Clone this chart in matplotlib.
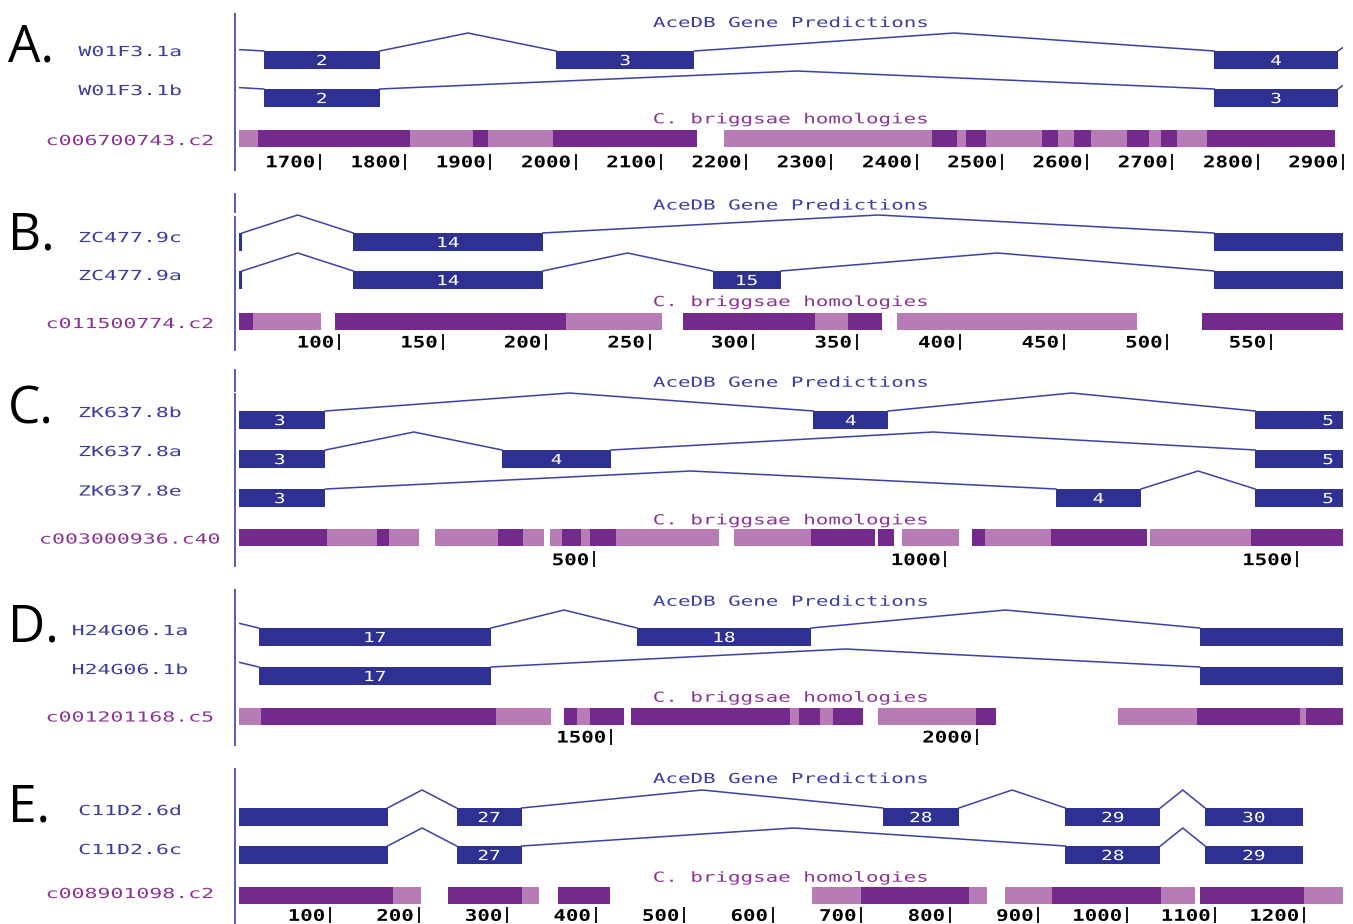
import matplotlib
matplotlib.use("Agg")
import matplotlib.pyplot as plt
from matplotlib import patheffects
from matplotlib.patches import Rectangle
from matplotlib.transforms import Affine2D, offset_copy

# ------------------------------------------------------------------
# Gene models (AceDB predictions) and C. briggsae homology blocks
# Coordinates are in base pairs along each displayed region.
# ------------------------------------------------------------------
panel_letters = ["A.", "B.", "C.", "D.", "E."]

# A: W01F3.1
a_span = (1604.4, 2900.0)
a_ticks = [1700, 1800, 1900, 2000, 2100, 2200, 2300, 2400, 2500, 2600, 2700, 2800, 2900]
a_genes = ["W01F3.1a", "W01F3.1b"]
a_exon_starts = [[700, 1634, 1977, 2749, 2955], [700, 1634, 2749, 2955]]
a_exon_ends = [[900, 1770, 2139, 2894, 3100], [900, 1770, 2894, 3100]]
a_exon_labels = [["", "2", "3", "4", ""], ["", "2", "3", ""]]
a_contig = "c006700743.c2"
a_hom_starts = [1600, 1627, 1806, 1880, 1897, 1973, 2174, 2418, 2447, 2458,
                2481, 2547, 2566, 2584, 2604, 2647, 2672, 2687, 2705, 2740]
a_hom_ends = [1627, 1806, 1880, 1897, 1973, 2142, 2418, 2447, 2458, 2481,
              2547, 2566, 2584, 2604, 2647, 2672, 2687, 2705, 2740, 2891]
a_hom_strong = [0, 1, 0, 1, 0, 1, 0, 1, 0, 1, 0, 1, 0, 1, 0, 1, 0, 1, 0, 1]

# B: ZC477.9
b_span = (51.5, 584.8)
b_ticks = [100, 150, 200, 250, 300, 350, 400, 450, 500, 550]
b_genes = ["ZC477.9c", "ZC477.9a"]
b_exon_starts = [[20, 107.0, 522.5], [20, 107.0, 280.4, 522.5]]
b_exon_ends = [[53.2, 198.3, 640], [53.2, 198.3, 313.3, 640]]
b_exon_labels = [["", "14", ""], ["", "14", "15", ""]]
b_contig = "c011500774.c2"
b_hom_starts = [40, 58.6, 98.3, 209.6, 266.0, 330.1, 345.7, 369.4, 516.5]
b_hom_ends = [58.6, 91.1, 209.6, 256.0, 330.1, 345.7, 362.1, 485.1, 600]
b_hom_strong = [1, 0, 1, 0, 1, 0, 1, 0, 1]

# C: ZK637.8
c_span = (-5.7, 1565.5)
c_ticks = [500, 1000, 1500]
c_genes = ["ZK637.8b", "ZK637.8a", "ZK637.8e"]
c_exon_starts = [[-12, 812.1, 1440.6], [-12, 369.4, 1440.6], [-12, 1157.2, 1440.6]]
c_exon_ends = [[117.9, 918.4, 1700], [117.9, 524.2, 1700], [117.9, 1278.1, 1700]]
c_exon_labels = [["3", "4", "5"], ["3", "4", "5"], ["3", "4", "5"]]
c_contig = "c003000936.c40"
c_hom_starts = [-10, 119.9, 191.2, 208.9, 274.0, 363.2, 398.7, 437.0, 454.2, 481.5, 494.3,
                530.6, 699.4, 808.8, 904.4, 937.6, 1038.1, 1055.9, 1149.5, 1290.9, 1434.2]
c_hom_ends = [119.9, 191.2, 208.9, 251.6, 363.2, 398.7, 429.3, 454.2, 481.5, 494.3, 530.6,
              678.4, 808.8, 900.0, 926.8, 1019.1, 1055.9, 1149.5, 1286.5, 1434.2, 1580]
c_hom_strong = [1, 0, 1, 0, 0, 1, 0, 0, 1, 0, 1, 0, 0, 1, 1, 0, 1, 0, 1, 0, 1]

# D: H24G06.1
d_span = (991.1, 2500.0)
d_ticks = [1500, 2000]
d_genes = ["H24G06.1a", "H24G06.1b"]
d_exon_starts = [[700, 1018.7, 1535.5, 2304.2], [700, 1018.7, 2304.2]]
d_exon_ends = [[813, 1336.1, 1773.4, 2650], [813, 1336.1, 2650]]
d_exon_labels = [["", "17", "18", ""], ["", "17", ""]]
d_contig = "c001201168.c5"
d_hom_starts = [980, 1021.9, 1342.2, 1435.8, 1454.1, 1471.3, 1527.6, 1744.1, 1756.3,
                1785.7, 1802.7, 1865.2, 1998.5, 2192.3, 2300.5, 2441.2, 2449.2]
d_hom_ends = [1021.9, 1342.2, 1417.5, 1454.1, 1471.3, 1518.3, 1744.1, 1756.3, 1785.7,
              1802.7, 1843.7, 1998.5, 2025.4, 2300.5, 2441.2, 2449.2, 2510]
d_hom_strong = [0, 1, 0, 1, 0, 1, 1, 0, 1, 0, 1, 0, 1, 0, 1, 0, 1]

# E: C11D2.6
e_span = (-3.3, 1244.0)
e_ticks = [100, 200, 300, 400, 500, 600, 700, 800, 900, 1000, 1100, 1200]
e_genes = ["C11D2.6d", "C11D2.6c"]
e_exon_starts = [[-60, 243.0, 724.3, 930.5, 1088.3], [-60, 243.0, 930.5, 1088.3]]
e_exon_ends = [[165.0, 316.3, 810.2, 1037.7, 1198.4], [165.0, 316.3, 1037.7, 1198.4]]
e_exon_labels = [["", "27", "28", "29", "30"], ["", "27", "28", "29"]]
e_contig = "c008901098.c2"
e_hom_starts = [-10, 171.1, 233.8, 316.3, 357.7, 644.3, 700.0, 821.3, 862.3, 915.4,
                1038.7, 1082.2, 1199.4]
e_hom_ends = [171.1, 202.5, 316.3, 335.5, 415.9, 700.0, 821.3, 842.1, 915.4, 1038.7,
              1077.1, 1199.4, 1260]
e_hom_strong = [1, 0, 1, 0, 1, 0, 1, 0, 0, 1, 0, 1, 0]

panels = [
    (a_span, a_ticks, a_genes, a_exon_starts, a_exon_ends, a_exon_labels, a_contig,
     a_hom_starts, a_hom_ends, a_hom_strong),
    (b_span, b_ticks, b_genes, b_exon_starts, b_exon_ends, b_exon_labels, b_contig,
     b_hom_starts, b_hom_ends, b_hom_strong),
    (c_span, c_ticks, c_genes, c_exon_starts, c_exon_ends, c_exon_labels, c_contig,
     c_hom_starts, c_hom_ends, c_hom_strong),
    (d_span, d_ticks, d_genes, d_exon_starts, d_exon_ends, d_exon_labels, d_contig,
     d_hom_starts, d_hom_ends, d_hom_strong),
    (e_span, e_ticks, e_genes, e_exon_starts, e_exon_ends, e_exon_labels, e_contig,
     e_hom_starts, e_hom_ends, e_hom_strong),
]

# ------------------------------------------------------------------
# Vertical layout of each panel (figure pixels, top = 0)
# ------------------------------------------------------------------
layout = [
    dict(head=22.0, rows=[51, 89], hom_text=118.3, hom_top=130.0, ruler=161.5,
         rule=[(13, 171)], letter=61.7, labels=[51.0, 90.0, 140.0]),
    dict(head=204.5, rows=[233, 271], hom_text=301.0, hom_top=312.5, ruler=341.7,
         rule=[(193, 213), (216, 351)], letter=249.0, labels=[237.0, 275.0, 323.0]),
    dict(head=381.7, rows=[411, 450, 489], hom_text=519.3, hom_top=529.3, ruler=559.3,
         rule=[(369, 391.5), (393.3, 567)], letter=423.3, labels=[412.0, 451.0, 490.5, 538.5]),
    dict(head=600.7, rows=[628, 667], hom_text=696.7, hom_top=707.7, ruler=736.7,
         rule=[(589, 746)], letter=641.7, labels=[630.0, 669.0, 716.5]),
    dict(head=778.0, rows=[808, 846], hom_text=876.7, hom_top=886.7, ruler=915.0,
         rule=[(768, 924)], letter=821.7, labels=[810.0, 849.0, 893.0]),
]

FIG_W, FIG_H = 1353, 924
TRACK_X0, TRACK_X1 = 238.5, 1343.0
RULE_X = 235.0
LABEL_X = 130.0
EXON_H = 18.0
HOM_H = 17.0
HAT = 18.0

GENE_BLUE = "#2e3192"
INTRON_BLUE = "#3f40a2"
LABEL_BLUE = "#3d3d9e"
HOM_DARK = "#74298c"
HOM_LIGHT = "#b77bb5"
HOM_TEXT = "#8a3594"

MONO = "DejaVu Sans Mono"


class WideGlyphs(patheffects.AbstractPathEffect):
    """Draws text glyphs stretched horizontally about a pivot (wide bitmap-font look)."""

    def __init__(self, sx, pivot="left"):
        super().__init__()
        self.sx = sx
        self.pivot = pivot

    def draw_path(self, renderer, gc, tpath, affine, rgbFace=None):
        ext = tpath.get_extents()
        if self.pivot == "center":
            p = 0.5 * (ext.x0 + ext.x1)
        elif self.pivot == "right":
            p = ext.x1
        else:
            p = ext.x0
        stretch = Affine2D().translate(-p, 0).scale(self.sx, 1.0).translate(p, 0)
        renderer.draw_path(gc, tpath, stretch + affine, rgbFace)


def cap_half(size_pt):
    return 0.5 * 0.729 * size_pt * 100 / 72.0


fig = plt.figure(figsize=(FIG_W / 100, FIG_H / 100), dpi=100)
fig.patch.set_facecolor("white")
base = fig.add_axes([0, 0, 1, 1])
base.set_xlim(0, FIG_W)
base.set_ylim(FIG_H, 0)
base.axis("off")

LABEL_PT = 10.0
HEAD_PT = 10.0
RULER_PT = 11.5
EXNUM_PT = 10.0

for letter, panel, lay in zip(panel_letters, panels, layout):
    (span, ticks, genes, ex_s, ex_e, ex_lab, contig, h_s, h_e, h_strong) = panel

    # panel letter
    base.text(8, lay["letter"], letter, fontfamily="Open Sans", fontsize=37,
              ha="left", va="baseline", color="black")

    # left rule
    for y0, y1 in lay["rule"]:
        base.plot([RULE_X, RULE_X], [y0, y1], color=INTRON_BLUE, lw=1.2,
                  solid_capstyle="butt")

    # track headings
    cx = 0.5 * (TRACK_X0 + TRACK_X1)
    base.text(cx, lay["head"] + cap_half(HEAD_PT), "AceDB Gene Predictions",
              fontfamily=MONO, fontsize=HEAD_PT, color=LABEL_BLUE, ha="center",
              va="baseline", path_effects=[WideGlyphs(1.5, "center")])
    base.text(cx, lay["hom_text"] + cap_half(HEAD_PT), "C. briggsae homologies",
              fontfamily=MONO, fontsize=HEAD_PT, color=HOM_TEXT, ha="center",
              va="baseline", path_effects=[WideGlyphs(1.5, "center")])

    # left-hand names
    names = list(genes) + [contig]
    colors = [LABEL_BLUE] * len(genes) + [HOM_TEXT]
    for name, y, col in zip(names, lay["labels"], colors):
        base.text(LABEL_X, y + cap_half(LABEL_PT), name, fontfamily=MONO,
                  fontsize=LABEL_PT, color=col, ha="center", va="baseline",
                  path_effects=[WideGlyphs(1.55, "center")])

    # track axes: x in base pairs, y in figure pixels
    ax = fig.add_axes([TRACK_X0 / FIG_W, 0, (TRACK_X1 - TRACK_X0) / FIG_W, 1])
    ax.set_xlim(*span)
    ax.set_ylim(FIG_H, 0)
    ax.axis("off")
    px_per_bp = (TRACK_X1 - TRACK_X0) / (span[1] - span[0])
    pad = 15.0 / px_per_bp

    for starts, ends, labs, top in zip(ex_s, ex_e, ex_lab, lay["rows"]):
        # intron hats between consecutive exons
        for i in range(len(starts) - 1):
            x0, x1 = ends[i], starts[i + 1]
            ax.plot([x0, 0.5 * (x0 + x1), x1], [top, top - HAT, top],
                    color=INTRON_BLUE, lw=1.1, solid_joinstyle="miter")
        for s, e, lab in zip(starts, ends, labs):
            ax.add_patch(Rectangle((s, top), e - s, EXON_H, facecolor=GENE_BLUE,
                                   edgecolor="none"))
            if lab:
                lo = max(s, span[0]) + pad
                hi = min(e, span[1]) - pad
                xm = min(max(0.5 * (s + e), lo), hi)
                ax.text(xm, top + EXON_H / 2 + cap_half(EXNUM_PT), lab,
                        fontfamily=MONO, fontsize=EXNUM_PT, color="white",
                        ha="center", va="baseline", clip_on=True,
                        path_effects=[WideGlyphs(1.4, "center")])

    # homology blocks
    for s, e, strong in zip(h_s, h_e, h_strong):
        ax.add_patch(Rectangle((s, lay["hom_top"]), e - s, HOM_H,
                               facecolor=HOM_DARK if strong else HOM_LIGHT,
                               edgecolor="none"))

    # ruler
    num_tr = offset_copy(ax.transData, fig=fig, x=-5, y=0, units="dots")
    for t in ticks:
        ax.text(t, lay["ruler"] + cap_half(RULER_PT), str(t), transform=num_tr,
                fontfamily=MONO, fontweight="bold", fontsize=RULER_PT,
                color="black", ha="right", va="baseline",
                path_effects=[WideGlyphs(1.3, "right")])
        ax.plot([t, t], [lay["ruler"] - 8, lay["ruler"] + 8], color="black",
                lw=1.3, clip_on=False, solid_capstyle="butt")

fig.savefig("out.png", dpi=100, facecolor="white")
